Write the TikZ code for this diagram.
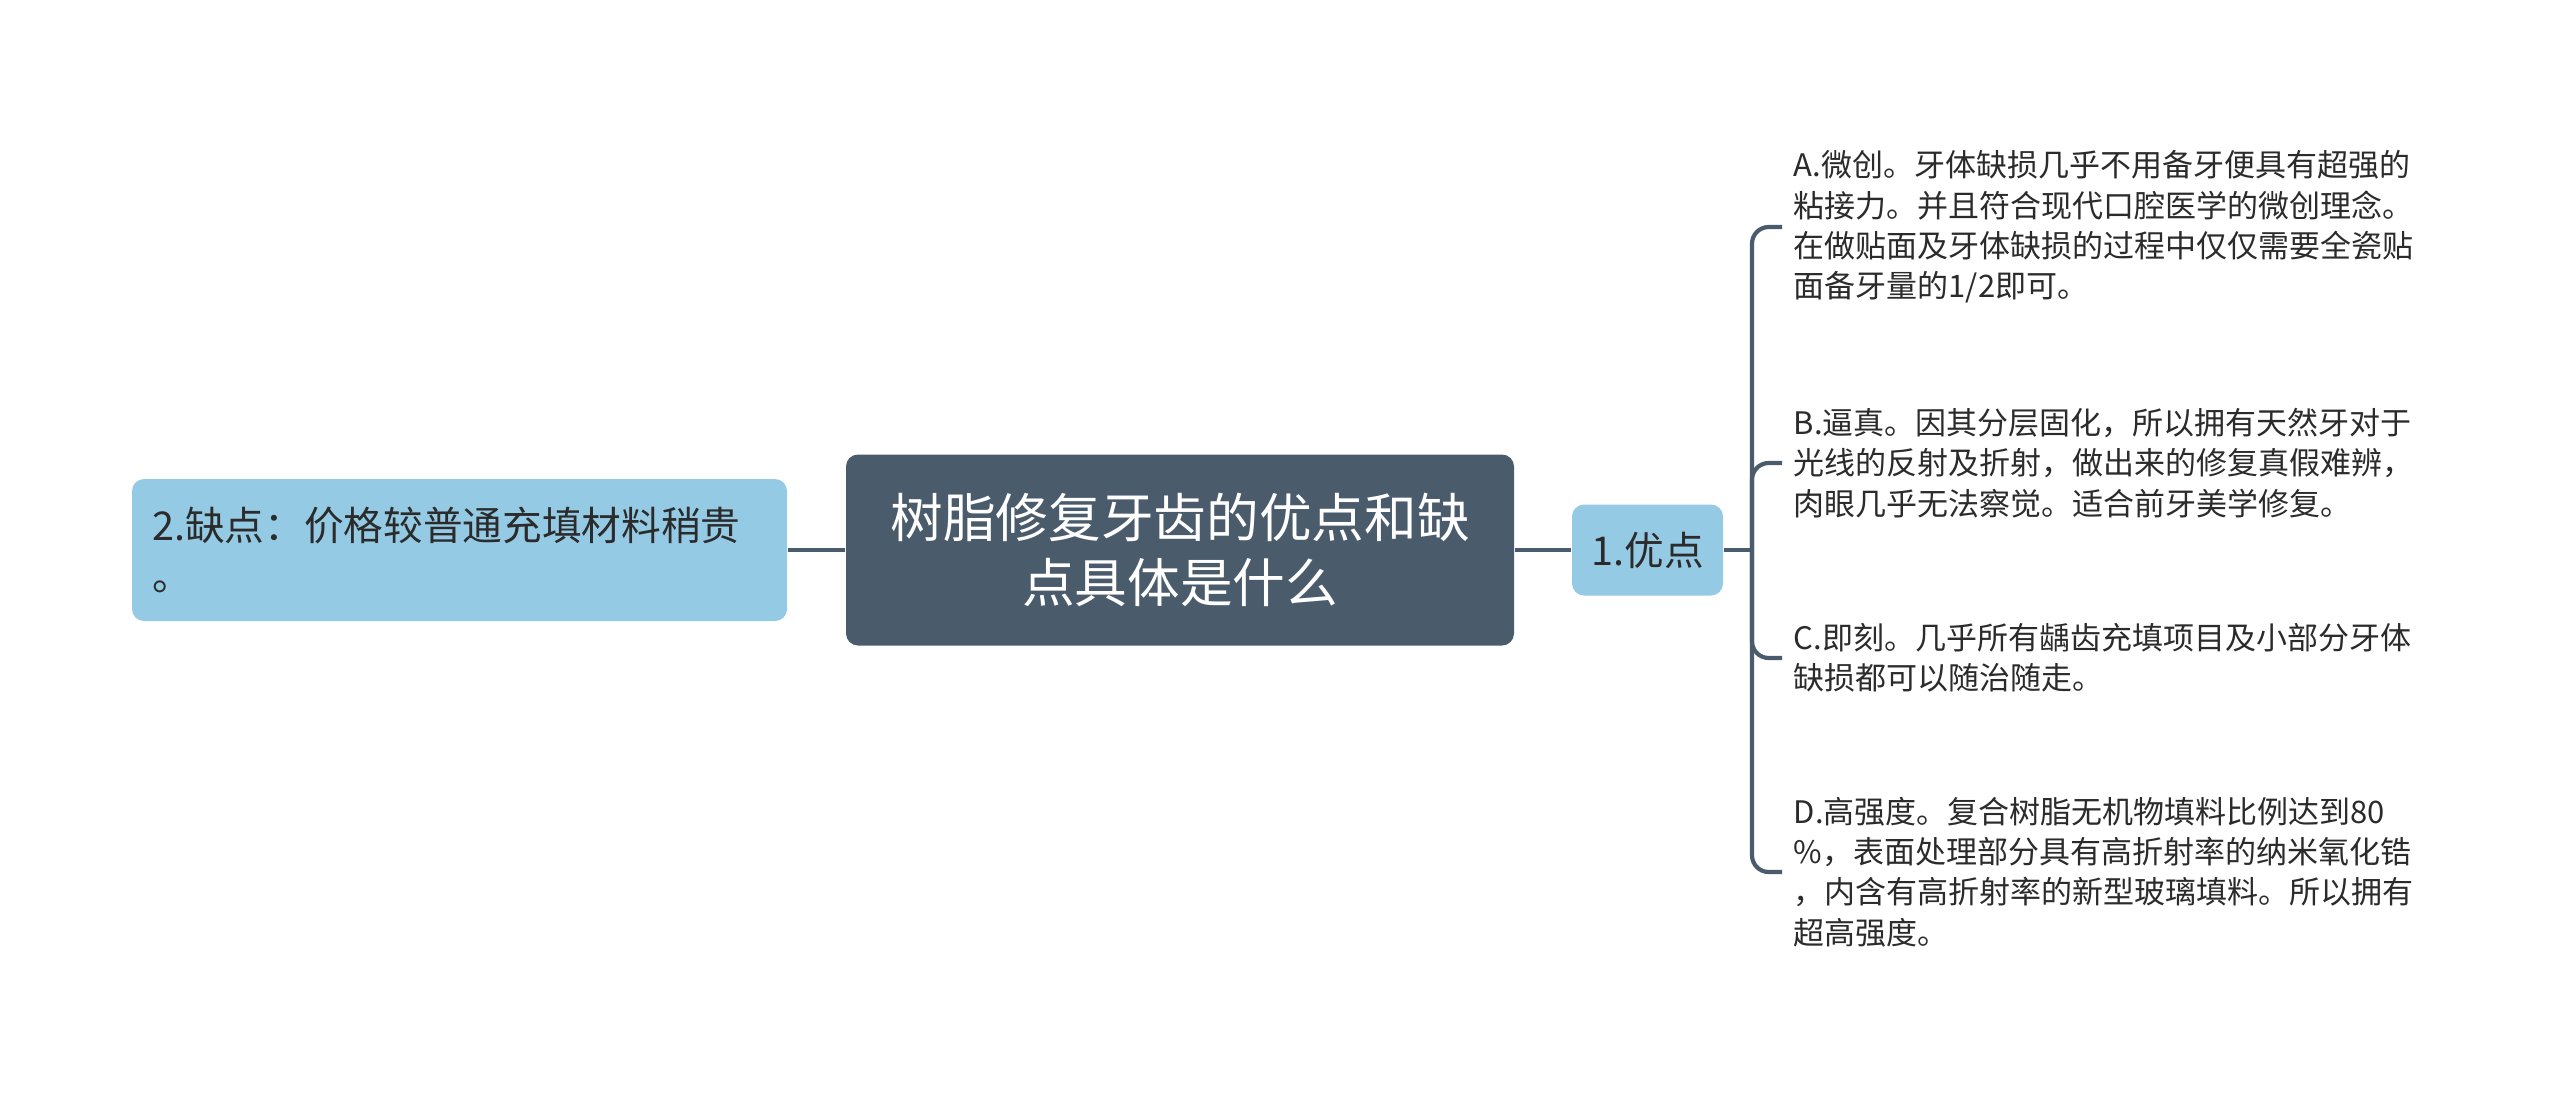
\documentclass[tikz,border=0pt]{standalone}
\usepackage{fontspec}
\setmainfont{Noto Sans CJK SC}
\definecolor{linec}{HTML}{4A5B6C}
\definecolor{titlec}{HTML}{4A5B6C}
\definecolor{subc}{HTML}{94CAE4}
\definecolor{textc}{HTML}{2B2B2B}
\begin{document}
\begin{tikzpicture}[x=0.3pt,y=-0.3pt,
  conn/.style={draw=linec, line width=1.25pt},
  topic/.style={fill=titlec, rounded corners=3.6pt, text=white, align=center,
    font=\fontsize{15.8}{19.5}\selectfont, minimum width=200.4pt, minimum height=57.3pt, inner sep=0pt},
  sub/.style={fill=subc, rounded corners=3.6pt, text=textc, inner ysep=0pt,
    font=\fontsize{11.9}{15}\selectfont},
  item/.style={anchor=west, align=left, text=textc, font=\fontsize{9.3}{12.1}\selectfont,
    inner xsep=3.3pt, inner ysep=0pt}]
\useasboundingbox (0,0) rectangle (2560,1101);
\fill[white] (0,0) rectangle (2560,1101);

\node[topic] (center) at (1180,550) {树脂修复牙齿的优点和缺\\点具体是什么};
\node[sub, align=left, text width=184.5pt, inner xsep=6pt, minimum height=42.6pt] (cons) at (459.5,550)
  {2.缺点：价格较普通充填材料稍贵\\。};
\node[sub, align=center, inner xsep=0pt, minimum width=45.3pt, minimum height=27.3pt] (pros) at (1647.5,550) {1.优点};

\node[item] (itemA) at (1782,227) {A.微创。牙体缺损几乎不用备牙便具有超强的\\粘接力。并且符合现代口腔医学的微创理念。\\在做贴面及牙体缺损的过程中仅仅需要全瓷贴\\面备牙量的1/2即可。};
\node[item] (itemB) at (1782,463) {B.逼真。因其分层固化，所以拥有天然牙对于\\光线的反射及折射，做出来的修复真假难辨，\\肉眼几乎无法察觉。适合前牙美学修复。};
\node[item] (itemC) at (1782,658) {C.即刻。几乎所有龋齿充填项目及小部分牙体\\缺损都可以随治随走。};
\node[item] (itemD) at (1782,872) {D.高强度。复合树脂无机物填料比例达到80\\\%，表面处理部分具有高折射率的纳米氧化锆\\，内含有高折射率的新型玻璃填料。所以拥有\\超高强度。};

\coordinate (hub) at (1752,550);
\draw[conn] (cons.east) -- (center.west);
\draw[conn] (center.east) -- (pros.west);
\draw[conn] (pros.east) -- (hub);
\draw[conn, rounded corners=5pt] (hub) |- (itemA.west);
\draw[conn, rounded corners=5pt] (hub) |- (itemB.west);
\draw[conn, rounded corners=5pt] (hub) |- (itemC.west);
\draw[conn, rounded corners=5pt] (hub) |- (itemD.west);
\end{tikzpicture}
\end{document}
